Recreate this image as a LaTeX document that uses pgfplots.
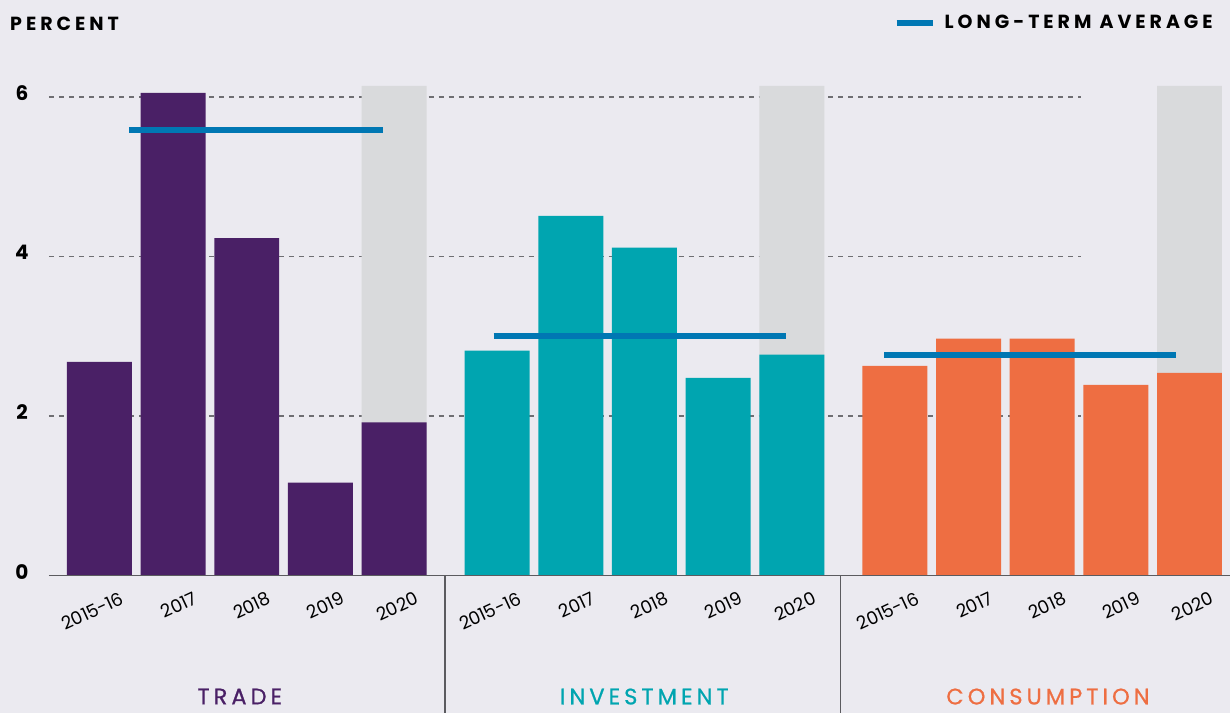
\documentclass[border=0pt]{standalone}
\usepackage{pgfplots}
\pgfplotsset{compat=1.18}
\usepackage{fontspec}
\setmainfont{Poppins}
\newfontfamily\spaced[LetterSpace=21]{Poppins}
\newfontfamily\spacedmed[LetterSpace=18,FakeBold=0.8]{Poppins}
\definecolor{bgcol}{HTML}{EBEAF0}
\definecolor{cpurple}{HTML}{4A2066}
\definecolor{cteal}{HTML}{00A5B0}
\definecolor{corange}{HTML}{EE6E42}
\definecolor{cgray}{HTML}{D9DADC}
\definecolor{avgblue}{HTML}{0077B3}
\definecolor{axisgray}{HTML}{5B5B5F}
\definecolor{gridgray}{HTML}{6E6E72}
\begin{document}
\begin{tikzpicture}
\begin{axis}[
  scale only axis,
  x=73.7pt, y=79.83pt,
  xmin=-0.685, xmax=15.352, ymin=0, ymax=6.2,
  axis line style={draw=none},
  major tick length=0pt,
  clip=false,
  axis on top,
  xtick={0,1,2,3,4,5.4,6.4,7.4,8.4,9.4,10.8,11.8,12.8,13.8,14.8},
  xticklabels={2015-16,2017,2018,2019,2020,2015-16,2017,2018,2019,2020,2015-16,2017,2018,2019,2020},
  xticklabel style={font=\fontsize{18}{20}\selectfont, inner sep=0pt, xshift=23pt, yshift=-21.5pt, rotate=25, anchor=east},
  ytick={0,2,4,6},
  /pgf/number format/assume math mode=true,
  yticklabel style={font=\fontsize{20}{22}\selectfont\bfseries, anchor=center, xshift=-27pt, yshift=4pt},
  legend style={at={(axis cs:10.780,6.927)}, anchor=west, draw=none, fill=none, inner sep=0pt,
     font=\fontsize{19}{21}\selectfont\spaced\bfseries,
     /tikz/every odd column/.append style={column sep=7pt}},
  legend image code/.code={\draw[line width=6pt] (0pt,0pt) -- (36pt,0pt);},
]
\fill[bgcol] (axis cs:-1.350,-1.716) rectangle (axis cs:15.352,7.215);
\draw[gridgray, line width=1.3pt, dash pattern=on 5pt off 5pt] (axis cs:-0.685,2) -- (axis cs:13.33,2);
\draw[gridgray, line width=1.3pt, dash pattern=on 5pt off 5pt] (axis cs:-0.685,4) -- (axis cs:13.33,4);
\draw[gridgray, line width=1.3pt, dash pattern=on 5pt off 5pt] (axis cs:-0.685,6) -- (axis cs:13.33,6);
% forecast shading
\addplot[ybar, bar width=65pt, bar shift=0pt, fill=cgray, draw=none, forget plot]
  coordinates {(4,6.14) (9.4,6.14) (14.8,6.14)};
% trade
\addplot[ybar, bar width=65pt, bar shift=0pt, fill=cpurple, draw=none, forget plot]
  coordinates {(0,2.68) (1,6.05) (2,4.23) (3,1.165) (4,1.92)};
% investment
\addplot[ybar, bar width=65pt, bar shift=0pt, fill=cteal, draw=none, forget plot]
  coordinates {(5.4,2.82) (6.4,4.51) (7.4,4.11) (8.4,2.48) (9.4,2.77)};
% consumption
\addplot[ybar, bar width=65pt, bar shift=0pt, fill=corange, draw=none, forget plot]
  coordinates {(10.8,2.63) (11.8,2.97) (12.8,2.97) (13.8,2.39) (14.8,2.54)};
% long-term averages
\addplot[avgblue, line width=6pt, no marks] coordinates {(0.400,5.587) (3.847,5.587)};
\addlegendentry{LONG-TERM AVERAGE}
\addplot[avgblue, line width=6pt, no marks, forget plot] coordinates {(5.353,3.006) (9.315,3.006)};
\addplot[avgblue, line width=6pt, no marks, forget plot] coordinates {(10.658,2.768) (14.620,2.768)};
% baseline and separators
\draw[axisgray, line width=1.7pt] (axis cs:-0.685,0) -- (axis cs:15.352,0);
\draw[axisgray, line width=1.7pt] (axis cs:4.688,0) -- (axis cs:4.688,-1.716);
\draw[axisgray, line width=1.7pt] (axis cs:10.061,0) -- (axis cs:10.061,-1.716);
% texts
\node[anchor=west, inner sep=0pt, font=\fontsize{19}{21}\selectfont\spaced\bfseries] at (axis cs:-1.214,6.915) {PERCENT};
\node[inner sep=0pt, text=cpurple, font=\fontsize{22.5}{24}\selectfont\spacedmed] at (axis cs:1.906,-1.516) {TRADE};
\node[inner sep=0pt, text=cteal, font=\fontsize{22.5}{24}\selectfont\spacedmed] at (axis cs:7.398,-1.516) {INVESTMENT};
\node[inner sep=0pt, text=corange, font=\fontsize{22.5}{24}\selectfont\spacedmed] at (axis cs:12.879,-1.516) {CONSUMPTION};
\end{axis}
\end{tikzpicture}
\end{document}
